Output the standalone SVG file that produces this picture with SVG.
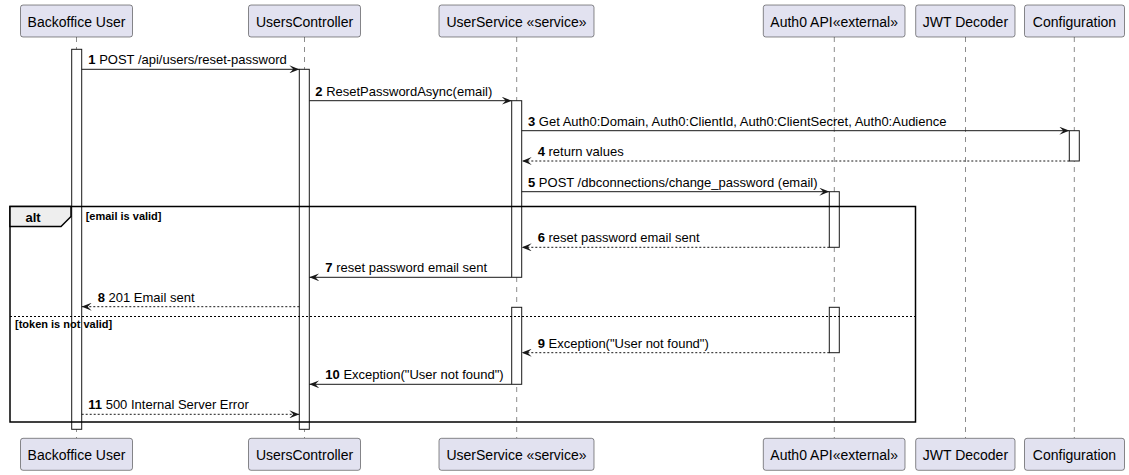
<svg xmlns="http://www.w3.org/2000/svg" width="1129" height="475" viewBox="0 0 1129 475">
<style>
.pbox{fill:#E2E2F0;stroke:#181818;stroke-width:0.5}
.ptxt{font-family:"Liberation Sans",Arial,sans-serif;font-size:14px;fill:#000;text-anchor:middle}
.life{stroke:#181818;stroke-width:0.5;stroke-dasharray:5,5;fill:none}
.act{fill:#FFFFFF;stroke:#181818;stroke-width:1}
.msg{stroke:#181818;stroke-width:1;fill:none}
.ret{stroke:#181818;stroke-width:1;fill:none;stroke-dasharray:2,2}
.mtxt{font-family:"Liberation Sans",Arial,sans-serif;font-size:13px;fill:#000}
.num{font-weight:bold}
.frame{fill:none;stroke:#000;stroke-width:1.5}
.tab{fill:#EEEEEE;stroke:#000;stroke-width:1.5}
.ftxt{font-family:"Liberation Sans",Arial,sans-serif;font-size:11px;font-weight:bold;fill:#000}
.alttxt{font-family:"Liberation Sans",Arial,sans-serif;font-size:13px;font-weight:bold;fill:#000}
.sep{stroke:#000;stroke-width:1;stroke-dasharray:2,2}
</style>
<defs>
<marker id="ah" viewBox="0 0 10 8" refX="10" refY="4" markerWidth="10" markerHeight="8" markerUnits="userSpaceOnUse" orient="auto">
<polygon points="10,4 0,0 4,4 0,8" fill="#181818"/>
</marker>
</defs>

<g id="lifelines">
<line class="life" x1="76.5" y1="37" x2="76.5" y2="438"/>
<line class="life" x1="304.5" y1="37" x2="304.5" y2="438"/>
<line class="life" x1="516.7" y1="37" x2="516.7" y2="438"/>
<line class="life" x1="834.3" y1="37" x2="834.3" y2="438"/>
<line class="life" x1="965.5" y1="37" x2="965.5" y2="438"/>
<line class="life" x1="1074.3" y1="37" x2="1074.3" y2="438"/>
</g>

<g id="p-backoffice">
<rect class="pbox" x="20.5" y="5" width="112" height="32" rx="2.5"/>
<text class="ptxt" x="76.5" y="26.5">Backoffice User</text>
<rect class="pbox" x="20.5" y="438.3" width="112" height="32" rx="2.5"/>
<text class="ptxt" x="76.5" y="459.5">Backoffice User</text>
</g>
<g id="p-userscontroller">
<rect class="pbox" x="248.5" y="5" width="112" height="32" rx="2.5"/>
<text class="ptxt" x="304.5" y="26.5">UsersController</text>
<rect class="pbox" x="248.5" y="438.3" width="112" height="32" rx="2.5"/>
<text class="ptxt" x="304.5" y="459.5">UsersController</text>
</g>
<g id="p-userservice">
<rect class="pbox" x="439" y="5" width="155" height="32" rx="2.5"/>
<text class="ptxt" x="516.5" y="26.5">UserService «service»</text>
<rect class="pbox" x="439" y="438.3" width="155" height="32" rx="2.5"/>
<text class="ptxt" x="516.5" y="459.5">UserService «service»</text>
</g>
<g id="p-auth0">
<rect class="pbox" x="763.3" y="5" width="141.7" height="32" rx="2.5"/>
<text class="ptxt" x="834.2" y="26.5">Auth0 API«external»</text>
<rect class="pbox" x="763.3" y="438.3" width="141.7" height="32" rx="2.5"/>
<text class="ptxt" x="834.2" y="459.5">Auth0 API«external»</text>
</g>
<g id="p-jwt">
<rect class="pbox" x="915.7" y="5" width="99.3" height="32" rx="2.5"/>
<text class="ptxt" x="965.4" y="26.5">JWT Decoder</text>
<rect class="pbox" x="915.7" y="438.3" width="99.3" height="32" rx="2.5"/>
<text class="ptxt" x="965.4" y="459.5">JWT Decoder</text>
</g>
<g id="p-configuration">
<rect class="pbox" x="1024.5" y="5" width="100" height="32" rx="2.5"/>
<text class="ptxt" x="1074.5" y="26.5">Configuration</text>
<rect class="pbox" x="1024.5" y="438.3" width="100" height="32" rx="2.5"/>
<text class="ptxt" x="1074.5" y="459.5">Configuration</text>
</g>

<g id="activations">
<rect class="act" x="71.7" y="49.3" width="10" height="380"/>
<rect class="act" x="299.3" y="69.3" width="10" height="360"/>
<rect class="act" x="511.7" y="100.7" width="10" height="176.6"/>
<rect class="act" x="511.7" y="307.3" width="10" height="77"/>
<rect class="act" x="1069.3" y="130.7" width="10" height="30.3"/>
<rect class="act" x="829.3" y="191.7" width="10" height="55.6"/>
<rect class="act" x="829.3" y="307.3" width="10" height="45.4"/>
</g>

<g id="alt-frame">
<rect class="frame" x="10" y="206.5" width="905.5" height="215.5"/>
<polygon class="tab" points="10,206.5 71,206.5 71,216.5 61,226.5 10,226.5"/>
<text class="alttxt" x="25.5" y="221.5">alt</text>
<text class="ftxt" x="85.7" y="220">[email is valid]</text>
<line class="sep" x1="10" y1="316.5" x2="915.5" y2="316.5"/>
<text class="ftxt" x="15" y="327.5">[token is not valid]</text>
</g>

<g id="connectors">
<line class="msg" x1="81.7" y1="69.3" x2="299.3" y2="69.3" marker-end="url(#ah)"/>
<text class="mtxt" x="88.3" y="64.3"><tspan class="num">1</tspan> POST /api/users/reset-password</text>

<line class="msg" x1="309.3" y1="100.7" x2="511.7" y2="100.7" marker-end="url(#ah)"/>
<text class="mtxt" x="315.3" y="95.7"><tspan class="num">2</tspan> ResetPasswordAsync(email)</text>

<line class="msg" x1="521.7" y1="130.7" x2="1069.3" y2="130.7" marker-end="url(#ah)"/>
<text class="mtxt" x="528" y="125.7"><tspan class="num">3</tspan> Get Auth0:Domain, Auth0:ClientId, Auth0:ClientSecret, Auth0:Audience</text>

<line class="ret" x1="1069.3" y1="161" x2="521.7" y2="161" marker-end="url(#ah)"/>
<text class="mtxt" x="537.7" y="156"><tspan class="num">4</tspan> return values</text>

<line class="msg" x1="521.7" y1="191.7" x2="829.3" y2="191.7" marker-end="url(#ah)"/>
<text class="mtxt" x="528" y="186.7"><tspan class="num">5</tspan> POST /dbconnections/change_password (email)</text>

<line class="ret" x1="829.3" y1="247.3" x2="521.7" y2="247.3" marker-end="url(#ah)"/>
<text class="mtxt" x="537.7" y="242.3"><tspan class="num">6</tspan> reset password email sent</text>

<line class="msg" x1="511.7" y1="277.3" x2="309.3" y2="277.3" marker-end="url(#ah)"/>
<text class="mtxt" x="325.3" y="272.3"><tspan class="num">7</tspan> reset password email sent</text>

<line class="ret" x1="299.3" y1="306.7" x2="81.7" y2="306.7" marker-end="url(#ah)"/>
<text class="mtxt" x="97.7" y="301.7"><tspan class="num">8</tspan> 201 Email sent</text>

<line class="ret" x1="829.3" y1="352.7" x2="521.7" y2="352.7" marker-end="url(#ah)"/>
<text class="mtxt" x="537.7" y="347.7"><tspan class="num">9</tspan> Exception("User not found")</text>

<line class="msg" x1="511.7" y1="384.3" x2="309.3" y2="384.3" marker-end="url(#ah)"/>
<text class="mtxt" x="325.3" y="379.3"><tspan class="num">10</tspan> Exception("User not found")</text>

<line class="ret" x1="81.7" y1="414.3" x2="299.3" y2="414.3" marker-end="url(#ah)"/>
<text class="mtxt" x="88.3" y="409.3"><tspan class="num">11</tspan> 500 Internal Server Error</text>
</g>
</svg>
